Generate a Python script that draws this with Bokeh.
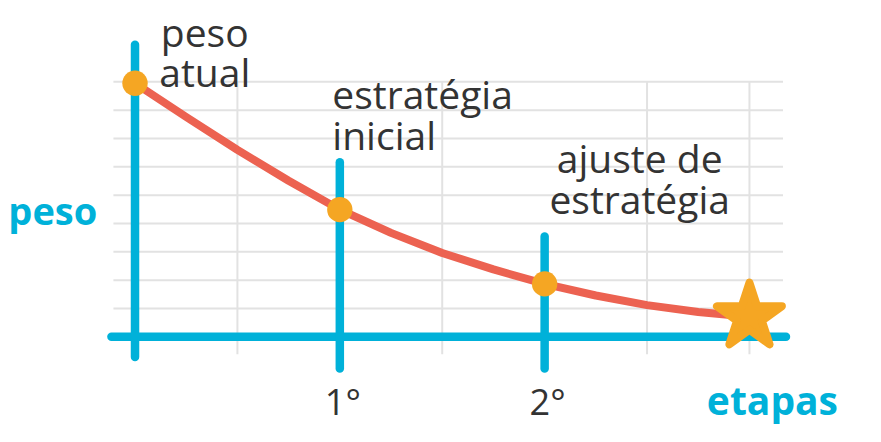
from bokeh.plotting import figure
from bokeh.models import Range1d
from bokeh.embed import file_html
from bokeh.resources import INLINE
from bokeh.core.properties import value

# ---- data (grid units: x = step along "etapas", y = peso) ----
curve_x = [0, 0.5, 1, 1.5, 2, 2.5, 3, 3.5, 4, 4.5, 5, 5.5, 6]
curve_y = [8.95, 7.76, 6.60, 5.51, 4.49, 3.67, 2.96, 2.38, 1.87, 1.46, 1.12, 0.88, 0.71]

stage_x = [0, 2, 4]
stage_y = [8.95, 4.49, 1.87]
stage_top = [10.31, 6.16, 3.54]
stage_bottom = [-0.71, -1.12, -1.12]

goal_x = [6]
goal_y = [0.71]

grid_h = [1, 2, 3, 4, 5, 6, 7, 8, 9]
grid_v = [1, 3, 5, 6]

stage_labels = [["peso", "atual"], ["estratégia", "inicial"], ["ajuste de", "estratégia"]]
tick_labels = ["1°", "2°"]
tick_x = [2, 4]
y_title = "peso"
x_title = "etapas"

BLUE = "#00B1D9"
ORANGE = "#F5A623"
RED = "#EC6251"
DARK = "#333333"
GRID = "#E2E2E2"

# ---- mapping helpers (reference-layout px -> data) ----
X0, XS = 137.0, 104.3
Y0, YS = 349.0, 29.4
REF_W, REF_H = 881, 442
W, H = 865, 426  # fits the 881x442 window with its 8px margin
S = 0.975        # pixel-size scale for fonts / markers


def dx(px):
    return (px - X0) / XS


def dy(py):
    return (Y0 - py) / YS


def fs(px):
    return f"{px * S:.1f}px"


p = figure(width=W, height=H, output_backend="svg", toolbar_location=None,
           x_range=Range1d(dx(0), dx(REF_W)), y_range=Range1d(dy(REF_H), dy(0)),
           x_axis_type=None, y_axis_type=None, min_border=0)
p.grid.visible = False
p.outline_line_color = None
p.background_fill_color = "white"

# grid
p.segment(x0=[dx(115)] * len(grid_h), x1=[dx(797)] * len(grid_h), y0=grid_h, y1=grid_h,
          line_color=GRID, line_width=2)
p.segment(x0=grid_v, x1=grid_v, y0=[dy(84)] * len(grid_v), y1=[dy(367)] * len(grid_v),
          line_color=GRID, line_width=2)

# blue axes
p.segment(x0=[dx(113)], x1=[dx(800)], y0=[0], y1=[0], line_color=BLUE, line_width=8.5,
          line_cap="round")
p.segment(x0=stage_x, x1=stage_x, y0=stage_bottom, y1=stage_top, line_color=BLUE,
          line_width=8.5, line_cap="round")

# curve
p.line(curve_x, curve_y, line_color=RED, line_width=8, line_cap="round", line_join="round")

# stage points
p.scatter(stage_x, stage_y, size=26 * S, marker="circle", fill_color=ORANGE, line_color=None)

# goal star
p.scatter(goal_x, goal_y, size=70 * S, marker="star", fill_color=ORANGE, line_color=ORANGE,
          line_width=8, line_join="round")

FONT = value("Open Sans")

# stage labels
label_specs = [
    (208, [32, 74], "center"),
    (338, [96, 139], "left"),
    (651, [163, 205], "center"),
]
for (px, pys, align), lines in zip(label_specs, stage_labels):
    p.text(x=[dx(px)] * len(lines), y=[dy(py) for py in pys], text=lines,
           text_font=FONT, text_font_size=fs(40), text_color=DARK,
           text_align=align, text_baseline="alphabetic")

# tick labels
p.text(x=tick_x, y=[dy(416)] * len(tick_x), text=tick_labels, text_font=FONT,
       text_font_size=fs(37), text_color=DARK, text_align="center",
       text_baseline="alphabetic", x_offset=3)

# axis titles
p.text(x=[dx(8)], y=[dy(217)], text=[y_title], text_font=FONT, text_font_size=fs(39),
       text_font_style="bold", text_color=BLUE, text_align="left", text_baseline="alphabetic")
p.text(x=[dx(853)], y=[dy(414)], text=[x_title], text_font=FONT, text_font_size=fs(40),
       text_font_style="bold", text_color=BLUE, text_align="right", text_baseline="alphabetic")

open("out.html", "w").write(file_html(p, INLINE))
